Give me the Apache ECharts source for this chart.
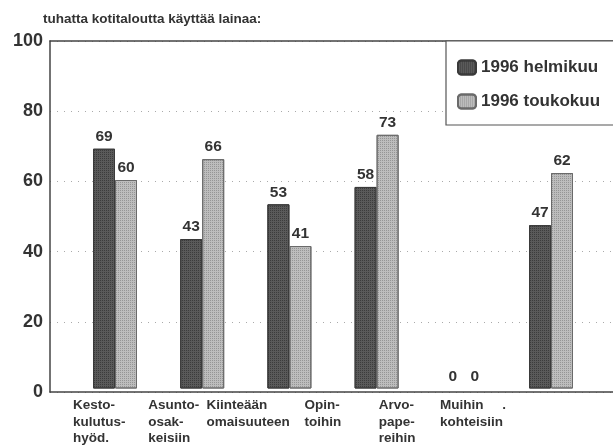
<!DOCTYPE html>
<html>
<head>
<meta charset="utf-8">
<script src="https://cdn.jsdelivr.net/npm/echarts@6/dist/echarts.min.js"></script>
<style>
  html, body { margin: 0; padding: 0; background: #fff; }
  #chart { width: 613px; height: 447px; }
</style>
</head>
<body>
<div id="chart"></div>
<script>
// kategoriat (rivitetyt nimet kuten alkuperäisessä)
const categories = [
  'Kesto-\nkulutus-\nhyöd.',
  'Asunto-\nosak-\nkeisiin',
  'Kiinteään\nomaisuuteen',
  'Opin-\ntoihin',
  'Arvo-\npape-\nreihin',
  'Muihin     .\nkohteisiin'
];
// tekstin siirto vasemmalle (px) kunkin sarakkeen keskeltä
const labelShift = [42, 54, 83, 72, 85, 111];
const seriesNames = ['1996 helmikuu', '1996 toukokuu'];
const helmikuu = [69, 43, 53, 58, 0, 47];
const toukokuu = [60, 66, 41, 73, 0, 62];
const yTicks = [0, 20, 40, 60, 80, 100];

const chart = echarts.init(document.getElementById('chart'));
const font = '"Liberation Sans", Arial, sans-serif';
const ink = '#333';

// nollapylväille ei reunaviivaa
const barData = arr => arr.map(v => v === 0 ? { value: v, itemStyle: { borderWidth: 0 } } : v);

const option = {
  animation: false,
  backgroundColor: '#fff',
  textStyle: { fontFamily: font },
  title: {
    text: 'tuhatta kotitaloutta käyttää lainaa:',
    left: 38, top: 7,
    textStyle: { fontSize: 13.5, fontWeight: 'bold', color: ink, fontFamily: font }
  },
  legend: {
    data: seriesNames,
    orient: 'vertical',
    left: 446, top: 41,
    padding: [18, 80, 15, 11],
    itemWidth: 18, itemHeight: 14, itemGap: 17,
    borderColor: '#555', borderWidth: 1.2,
    backgroundColor: '#fff',
    textStyle: { fontSize: 17, fontWeight: 'bold', color: ink, fontFamily: font }
  },
  grid: [
    { left: 50, right: -20, top: 41, bottom: 55 },          // tausta + y-akseli
    { left: 71.4, right: 18.4, top: 41, bottom: 55 }        // pylväät
  ],
  xAxis: [
    { type: 'value', gridIndex: 0, min: 0, max: 1, position: 'bottom',
      axisLine: { show: true, lineStyle: { color: '#444', width: 1.5 } },
      axisTick: { show: false }, axisLabel: { show: false }, splitLine: { show: false } },
    { type: 'value', gridIndex: 0, min: 0, max: 1, position: 'top',
      axisLine: { show: true, lineStyle: { color: '#444', width: 1.5 } },
      axisTick: { show: false }, axisLabel: { show: false }, splitLine: { show: false } },
    { type: 'category', gridIndex: 1,
      data: categories.map((c, i) => ({
        value: c,
        textStyle: { align: 'left', padding: [0, 0, 0, -labelShift[i]] }
      })),
      axisLine: { show: false }, axisTick: { show: false },
      axisLabel: {
        interval: 0, margin: 9, align: 'left',
        fontSize: 13.5, fontWeight: 'bold', color: ink, lineHeight: 16.5, fontFamily: font
      } }
  ],
  yAxis: [
    { type: 'value', gridIndex: 0, min: 0, max: 100, interval: 20,
      axisLine: { show: true, lineStyle: { color: '#444', width: 1.5 } },
      axisTick: { show: false },
      axisLabel: { margin: 7, fontSize: 18, fontWeight: 'bold', color: ink, fontFamily: font,
        formatter: v => yTicks.includes(v) ? String(v) : '' },
      splitLine: { show: true, lineStyle: { color: '#aaa', type: [1, 6], width: 1 } } },
    { type: 'value', gridIndex: 1, min: 0, max: 100, show: false }
  ],
  series: [
    {
      name: seriesNames[0], type: 'bar', xAxisIndex: 2, yAxisIndex: 1,
      data: barData(helmikuu), barWidth: 22, barGap: '0%',
      itemStyle: {
        color: '#5a5a5a', borderColor: '#3a3a3a', borderWidth: 1,
        decal: { symbol: 'rect', symbolSize: 1, dashArrayX: [1, 1], dashArrayY: [1, 1], color: 'rgba(30,30,30,0.5)' }
      },
      label: { show: true, position: 'top', distance: 4, fontSize: 15.5, fontWeight: 'bold', color: ink, fontFamily: font }
    },
    {
      name: seriesNames[1], type: 'bar', xAxisIndex: 2, yAxisIndex: 1,
      data: barData(toukokuu), barWidth: 22, barGap: '0%',
      itemStyle: {
        color: '#bdbdbd', borderColor: '#6a6a6a', borderWidth: 1,
        decal: { symbol: 'rect', symbolSize: 1, dashArrayX: [1, 1], dashArrayY: [1, 1], color: 'rgba(110,110,110,0.5)' }
      },
      label: { show: true, position: 'top', distance: 4, fontSize: 15.5, fontWeight: 'bold', color: ink, fontFamily: font }
    }
  ]
};

chart.setOption(option);
</script>
</body>
</html>
